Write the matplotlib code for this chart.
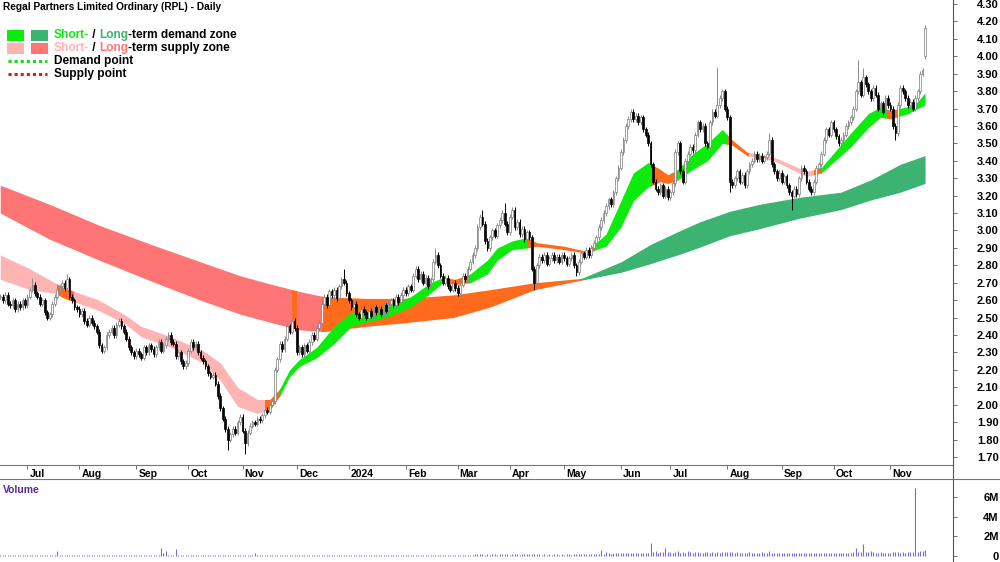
"""
Regal Partners Limited Ordinary (RPL) - daily candles with short/long-term
demand & supply zones and a volume panel underneath.
"""

import numpy as np
import pandas as pd
import matplotlib
matplotlib.use("Agg")
import matplotlib.pyplot as plt
from matplotlib.patches import Rectangle
from matplotlib.lines import Line2D

plt.rcParams["font.family"] = ["Liberation Sans", "DejaVu Sans"]

# ---------------------------------------------------------------------------
# Data
# ---------------------------------------------------------------------------
START = "2023-06-16"

closes = [
    # Jun 2023
    2.62, 2.60, 2.63, 2.58, 2.57, 2.60, 2.55, 2.58, 2.56, 2.60, 2.57,
    # Jul
    2.62, 2.66, 2.69, 2.64, 2.62, 2.58, 2.60, 2.53, 2.50, 2.52, 2.58, 2.62,
    2.66, 2.68, 2.70, 2.67, 2.72, 2.62, 2.60, 2.56, 2.55, 2.52,
    # Aug
    2.54, 2.48, 2.46, 2.50, 2.47, 2.45, 2.42, 2.34, 2.31, 2.33, 2.40, 2.42,
    2.44, 2.40, 2.46, 2.48, 2.45, 2.42, 2.38, 2.33, 2.30, 2.28, 2.31,
    # Sep
    2.29, 2.27, 2.33, 2.30, 2.34, 2.32, 2.29, 2.33, 2.36, 2.31, 2.34, 2.38,
    2.40, 2.36, 2.35, 2.28, 2.30, 2.25, 2.22, 2.24, 2.31,
    # Oct
    2.36, 2.33, 2.35, 2.30, 2.27, 2.25, 2.22, 2.18, 2.16, 2.17, 2.12, 2.05,
    1.98, 1.92, 1.86, 1.80, 1.83, 1.86, 1.84, 1.90, 1.93, 1.85,
    # Nov
    1.78, 1.84, 1.88, 1.90, 1.89, 1.92, 1.91, 1.94, 1.97, 1.96, 2.00, 2.02,
    2.20, 2.26, 2.35, 2.32, 2.38, 2.45, 2.42, 2.48, 2.44, 2.30,
    # Dec
    2.33, 2.29, 2.34, 2.31, 2.36, 2.40, 2.38, 2.44, 2.47, 2.58, 2.62, 2.57,
    2.65, 2.63, 2.66, 2.61, 2.68, 2.72, 2.70, 2.64, 2.60,
    # Jan 2024
    2.56, 2.58, 2.52, 2.50, 2.55, 2.53, 2.50, 2.54, 2.51, 2.56, 2.53, 2.55,
    2.52, 2.57, 2.54, 2.58, 2.60, 2.57, 2.62, 2.59, 2.63, 2.66, 2.64,
    # Feb
    2.68, 2.66, 2.74, 2.78, 2.72, 2.75, 2.70, 2.73, 2.68, 2.72, 2.82, 2.86,
    2.80, 2.74, 2.70, 2.73, 2.68, 2.66, 2.70, 2.67, 2.64,
    # Mar
    2.69, 2.74, 2.72, 2.78, 2.82, 2.86, 2.90, 3.02, 3.08, 3.04, 2.94, 2.90,
    2.96, 3.00, 2.97, 3.03, 3.06, 3.10, 3.04, 2.99, 3.08,
    # Apr
    3.12, 3.02, 3.05, 2.98, 3.01, 2.95, 2.99, 2.96, 2.78, 2.70, 2.80, 2.85,
    2.83, 2.86, 2.81, 2.84, 2.86, 2.83, 2.85, 2.82, 2.86, 2.84,
    # May
    2.81, 2.84, 2.86, 2.80, 2.76, 2.82, 2.87, 2.85, 2.89, 2.86, 2.90, 2.93,
    2.96, 3.02, 3.06, 3.10, 3.14, 3.18, 3.15, 3.22, 3.30, 3.36, 3.45,
    # Jun
    3.52, 3.60, 3.64, 3.68, 3.64, 3.66, 3.62, 3.65, 3.58, 3.55, 3.50, 3.38,
    3.28, 3.24, 3.22, 3.26, 3.20, 3.24, 3.19, 3.22,
    # Jul
    3.27, 3.45, 3.50, 3.34, 3.28, 3.40, 3.44, 3.48, 3.46, 3.55, 3.62, 3.58,
    3.60, 3.50, 3.48, 3.62, 3.68, 3.66, 3.72, 3.76, 3.80, 3.70, 3.65,
    # Aug
    3.28, 3.26, 3.30, 3.34, 3.28, 3.32, 3.26, 3.34, 3.38, 3.40, 3.44, 3.41,
    3.43, 3.40, 3.42, 3.44, 3.52, 3.38, 3.34, 3.30, 3.33, 3.28,
    # Sep
    3.31, 3.26, 3.22, 3.20, 3.24, 3.21, 3.30, 3.36, 3.34, 3.28, 3.24, 3.22,
    3.28, 3.36, 3.38, 3.44, 3.52, 3.58, 3.55, 3.62, 3.58,
    # Oct
    3.54, 3.50, 3.52, 3.55, 3.60, 3.62, 3.65, 3.70, 3.80, 3.85, 3.78, 3.88,
    3.84, 3.80, 3.76, 3.82, 3.78, 3.70, 3.73, 3.68, 3.76, 3.72, 3.70,
    # Nov
    3.60, 3.56, 3.72, 3.82, 3.80, 3.76, 3.72, 3.74, 3.70, 3.76, 3.80, 3.90,
    3.92, 4.16,
]

# opens follow the previous close except where the chart shows a gap
open_gaps = {374: 4.00}
# wick extremes that stick out noticeably
spike_highs = {13: 2.73, 27: 2.75, 139: 2.78, 176: 2.90, 195: 3.12,
               204: 3.16, 256: 3.70, 290: 3.94, 311: 3.56, 347: 3.98,
               349: 3.93, 374: 4.18}
spike_lows = {92: 1.74, 99: 1.72, 216: 2.66, 233: 2.74, 295: 3.22,
              320: 3.12, 362: 3.52}

# daily volume, millions of shares
volume_m = [
    0.10, 0.08, 0.12, 0.09, 0.11, 0.07, 0.10, 0.13, 0.09, 0.08, 0.12, 0.10, 0.09,
    0.11, 0.08, 0.10, 0.12, 0.09, 0.10, 0.08, 0.11, 0.09, 0.12, 0.55, 0.10,
    0.09, 0.11, 0.10, 0.08, 0.12, 0.09, 0.10, 0.08, 0.11, 0.09, 0.10, 0.12, 0.08,
    0.09, 0.11, 0.10, 0.09, 0.12, 0.08, 0.10, 0.11, 0.09, 0.10, 0.08, 0.12,
    0.10, 0.09, 0.11, 0.08, 0.10, 0.12, 0.09, 0.10, 0.11, 0.08, 0.10, 0.09, 0.12,
    0.10, 0.11, 0.80, 0.35, 0.55, 0.12, 0.10, 0.14, 0.70, 0.12, 0.10, 0.09,
    0.11, 0.10, 0.12, 0.09, 0.10, 0.08, 0.11, 0.10, 0.09, 0.12, 0.10, 0.11, 0.13,
    0.10, 0.12, 0.09, 0.11, 0.10, 0.12, 0.09, 0.10, 0.11, 0.13, 0.10, 0.12,
    0.10, 0.11, 0.09, 0.30, 0.12, 0.10, 0.11, 0.09, 0.10, 0.12, 0.11, 0.14, 0.12,
    0.10, 0.11, 0.09, 0.12, 0.10, 0.11, 0.09, 0.10, 0.12, 0.08, 0.10, 0.11,
    0.09, 0.10, 0.12, 0.08, 0.10, 0.11, 0.09, 0.10, 0.08, 0.12, 0.10, 0.09, 0.11,
    0.08, 0.10, 0.09, 0.12, 0.10, 0.09, 0.11, 0.10, 0.08, 0.12, 0.09, 0.10,
    0.11, 0.09, 0.10, 0.12, 0.08, 0.10, 0.11, 0.09, 0.10, 0.12, 0.10, 0.11, 0.09,
    0.10, 0.12, 0.10, 0.11, 0.09, 0.13, 0.10, 0.12, 0.11, 0.09, 0.14, 0.10,
    0.12, 0.15, 0.10, 0.13, 0.11, 0.14, 0.12, 0.10, 0.13, 0.11, 0.12, 0.14, 0.11,
    0.13, 0.12, 0.15, 0.13, 0.18, 0.22, 0.16, 0.20, 0.14, 0.17, 0.15, 0.16,
    0.18, 0.15, 0.17, 0.20, 0.16, 0.19, 0.15, 0.18, 0.16, 0.17, 0.15, 0.18, 0.16,
    0.19, 0.17, 0.22, 0.25, 0.18, 0.16, 0.15, 0.17, 0.14, 0.16, 0.15, 0.17,
    0.16, 0.14, 0.17, 0.15, 0.16, 0.18, 0.15, 0.17, 0.20, 0.16, 0.18, 0.17, 0.19,
    0.16, 0.20, 0.18, 0.22, 0.20, 0.60, 0.25, 0.45, 0.28, 0.24, 0.26, 0.30,
    0.28, 0.32, 0.30, 0.35, 0.28, 0.30, 0.26, 0.29, 0.27, 0.31, 0.28, 0.30, 0.33,
    1.30, 0.40, 0.50, 0.35, 0.38, 0.42, 0.80, 0.36, 0.45, 0.34, 0.40, 0.55,
    0.35, 0.38, 0.33, 0.50, 0.36, 0.34, 0.40, 0.45, 0.35, 0.32, 0.38, 0.40, 0.33,
    0.36, 0.34, 0.38, 0.35, 0.42, 0.37, 0.40, 0.45, 0.38, 0.34, 0.36, 0.33,
    0.35, 0.32, 0.34, 0.36, 0.33, 0.35, 0.31, 0.34, 0.36, 0.32, 0.35, 0.50, 0.33,
    0.31, 0.34, 0.30, 0.32, 0.35, 0.31, 0.33, 0.30, 0.32, 0.29, 0.31, 0.30,
    0.28, 0.30, 0.27, 0.29, 0.31, 0.28, 0.30, 0.32, 0.29, 0.31, 0.30, 0.33, 0.31,
    0.29, 0.32, 0.30, 0.34, 0.31, 0.33, 0.35, 0.36, 0.80, 0.40, 0.38, 1.20,
    0.45, 0.38, 0.50, 0.36, 0.34, 0.33, 0.36, 0.32, 0.35, 0.34, 0.33, 0.38, 0.36,
    0.40, 0.35, 0.37, 0.34, 0.38, 0.36, 0.42, 6.90, 0.45, 0.50, 0.48, 0.60,
]

# short-term zone edges (trading-day index, upper, lower)
st_idx = [0, 12, 22, 26, 30, 40, 51, 57, 69, 82, 89, 96, 104, 109, 113,
          117, 121, 128, 135, 142, 147, 156, 166, 174, 179, 184, 190, 197,
          201, 207, 213, 217, 228, 237, 245, 251, 256, 262, 267, 270, 274,
          280, 286, 292, 296, 302, 313, 326, 332, 344, 351, 356, 360, 367,
          371, 374]
st_upper = [2.86, 2.78, 2.70, 2.67, 2.65, 2.60, 2.51, 2.45, 2.39, 2.31, 2.24,
            2.10, 2.03, 2.03, 2.09, 2.20, 2.26, 2.33, 2.45, 2.53, 2.53, 2.56,
            2.62, 2.70, 2.73, 2.72, 2.75, 2.83, 2.90, 2.94, 2.96, 2.93, 2.91,
            2.88, 2.98, 3.17, 3.33, 3.39, 3.35, 3.32, 3.35, 3.44, 3.50, 3.58,
            3.52, 3.45, 3.42, 3.34, 3.36, 3.56, 3.67, 3.71, 3.69, 3.71, 3.74,
            3.79]
st_lower = [2.72, 2.66, 2.64, 2.61, 2.59, 2.54, 2.46, 2.39, 2.33, 2.24, 2.14,
            1.99, 1.95, 1.97, 2.05, 2.16, 2.22, 2.27, 2.35, 2.45, 2.47, 2.50,
            2.56, 2.64, 2.70, 2.69, 2.70, 2.75, 2.83, 2.89, 2.90, 2.91, 2.89,
            2.87, 2.91, 3.02, 3.17, 3.25, 3.28, 3.27, 3.29, 3.35, 3.40, 3.50,
            3.49, 3.43, 3.40, 3.31, 3.33, 3.48, 3.59, 3.65, 3.64, 3.67, 3.70,
            3.72]
st_states = [("supply", -1, 23), ("neutral", 23, 30), ("supply", 30, 107),
             ("neutral", 107, 113), ("demand", 113, 181), ("neutral", 181, 189),
             ("demand", 189, 213), ("neutral", 213, 240), ("demand", 240, 263),
             ("neutral", 263, 274), ("demand", 274, 294), ("neutral", 294, 303),
             ("supply", 303, 329), ("neutral", 329, 332), ("demand", 332, 359),
             ("neutral", 359, 363), ("demand", 363, 376)]

# long-term zone edges
lt_idx = [0, 20, 40, 61, 81, 97, 110, 121, 131, 148, 163, 183, 198, 216,
          235, 251, 263, 275, 283, 295, 307, 323, 340, 352, 364, 374]
lt_upper = [3.26, 3.15, 3.03, 2.92, 2.82, 2.74, 2.69, 2.65, 2.62, 2.61, 2.61,
            2.63, 2.66, 2.70, 2.725, 2.82, 2.92, 3.00, 3.05, 3.11, 3.15, 3.19,
            3.22, 3.29, 3.38, 3.43]
lt_lower = [3.10, 2.95, 2.83, 2.71, 2.60, 2.52, 2.47, 2.43, 2.42, 2.45, 2.47,
            2.50, 2.56, 2.66, 2.715, 2.76, 2.81, 2.865, 2.905, 2.97, 3.01,
            3.07, 3.12, 3.175, 3.22, 3.27]
lt_states = [("supply", -1, 118), ("neutral", 118, 120), ("supply", 120, 130),
             ("neutral", 130, 235), ("demand", 235, 376)]

# ---------------------------------------------------------------------------
# Styling
# ---------------------------------------------------------------------------
ST_COLORS = {"demand": "#0DEB0D", "supply": "#FFB4B4", "neutral": "#FF6A1C"}
LT_COLORS = {"demand": "#3CB371", "supply": "#FF7575", "neutral": "#FF6A1C"}
W, H = 1000, 562

n = len(closes)
dates = pd.bdate_range(START, periods=n)
x = np.arange(n)
c = np.array(closes)
o = np.concatenate([[c[0]], c[:-1]])
for k, v in open_gaps.items():
    o[k] = v
hi = np.maximum(o, c) + 0.015
lo = np.minimum(o, c) - 0.015
for k, v in spike_highs.items():
    hi[k] = v
for k, v in spike_lows.items():
    lo[k] = v

fig = plt.figure(figsize=(W / 100, H / 100), dpi=100)
ax = fig.add_axes([0, (H - 465) / H, 953 / W, 465 / H])
vax = fig.add_axes([0, 0, 953 / W, (H - 479) / H])

XLIM = (-0.1, 385.3)

# --- zones, coloured by state using clip rectangles ---
def draw_zone(idx, upper, lower, states, colors):
    for state, x0, x1 in states:
        poly = ax.fill_between(idx, lower, upper, color=colors[state],
                               lw=0, zorder=1)
        clip = Rectangle((x0, 0), x1 - x0, 10, transform=ax.transData)
        poly.set_clip_path(clip)

draw_zone(lt_idx, lt_upper, lt_lower, lt_states, LT_COLORS)
draw_zone(st_idx, st_upper, st_lower, st_states, ST_COLORS)

# --- candles ---
up = c >= o
ax.vlines(x[up], lo[up], hi[up], colors="#8a8a8a", lw=0.7, zorder=3)
ax.vlines(x[~up], lo[~up], hi[~up], colors="black", lw=0.7, zorder=3)
body = np.maximum(np.abs(c - o), 0.004)
ax.bar(x[up], body[up], bottom=np.minimum(o, c)[up], width=0.7,
       facecolor="white", edgecolor="#7a7a7a", lw=0.5, zorder=4)
ax.bar(x[~up], body[~up], bottom=np.minimum(o, c)[~up], width=0.7,
       facecolor="black", edgecolor="black", lw=0.5, zorder=4)

ax.set_xlim(*XLIM)
ax.set_ylim(1.654, 4.323)

# month ticks + labels in the date strip
month_start = [i for i in range(1, n) if dates[i].month != dates[i - 1].month]
ax.set_xticks(month_start)
ax.tick_params(axis="x", direction="out", length=3, width=0.6,
               color="#555555", labelbottom=False)
for i in month_start:
    d = dates[i]
    lab = str(d.year) if d.month == 1 else d.strftime("%b")
    ax.annotate(lab, xy=(i, 0), xycoords=ax.get_xaxis_transform(),
                xytext=(2, -9), textcoords="offset pixels",
                ha="left", va="center", fontsize=7.5, fontweight="bold")

# price axis on the right
ax.yaxis.tick_right()
yt = np.round(np.arange(1.7, 4.31, 0.1), 2)
ax.set_yticks(yt)
ax.set_yticklabels([f"{v:.2f}" for v in yt], fontsize=8, fontweight="bold")
ax.tick_params(axis="y", direction="out", length=3, width=0.6,
               color="#555555", pad=30)
for lbl in ax.get_yticklabels():
    lbl.set_ha("right")

for s in ["top", "left"]:
    ax.spines[s].set_visible(False)
ax.spines["right"].set_color("#555555")
ax.spines["bottom"].set_color("#777777")
ax.spines["right"].set_linewidth(0.8)
ax.spines["bottom"].set_linewidth(0.8)

# --- volume panel ---
vol = np.array(volume_m) * 1e6
vax.vlines(x[:len(vol)], 0, vol, colors="#6F6FD6", lw=0.8)
vax.set_xlim(*XLIM)
vax.set_ylim(-0.61e6, 7.83e6)
vax.set_xticks([])
vax.yaxis.tick_right()
vax.set_yticks([0, 2e6, 4e6, 6e6])
vax.set_yticklabels(["0", "2M", "4M", "6M"], fontsize=8, fontweight="bold")
vax.tick_params(axis="y", direction="out", length=3, width=0.6,
                color="#555555", pad=30)
for lbl in vax.get_yticklabels():
    lbl.set_ha("right")
for s in ["bottom", "left"]:
    vax.spines[s].set_visible(False)
vax.spines["right"].set_color("#555555")
vax.spines["top"].set_color("#777777")
vax.spines["right"].set_linewidth(0.8)
vax.spines["top"].set_linewidth(0.8)
vax.text(3 / 953, (562 - 490) / 83, "Volume", transform=vax.transAxes,
         color="#5A2A96", fontsize=7.5, fontweight="bold", va="center")

# right border through the date strip, full-width line above volume
fig.add_artist(Line2D([953 / W, 953 / W], [(H - 479) / H, (H - 465) / H],
                      color="#555555", lw=0.8))
fig.add_artist(Line2D([953 / W, 1], [(H - 479) / H, (H - 479) / H],
                      color="#777777", lw=0.8))

# --- title & legend ---
fig.text(3 / W, 1 - 7 / H, "Regal Partners Limited Ordinary (RPL) - Daily",
         fontsize=7.3, fontweight="bold", va="center", ha="left")

def swatch(x0, y0, w, h, color):
    fig.add_artist(Rectangle((x0 / W, 1 - (y0 + h) / H), w / W, h / H,
                             transform=fig.transFigure, color=color, lw=0))

swatch(7, 30, 17, 11, ST_COLORS["demand"])
swatch(31, 30, 17, 11, LT_COLORS["demand"])
swatch(7, 43, 17, 11, ST_COLORS["supply"])
swatch(31, 43, 17, 11, LT_COLORS["supply"])
fig.add_artist(Line2D([8 / W, 47 / W], [1 - 61 / H, 1 - 61 / H],
                      color="#11DD11", lw=2.2, ls=(0, (1, 1))))
fig.add_artist(Line2D([8 / W, 47 / W], [1 - 74 / H, 1 - 74 / H],
                      color="#EE1111", lw=2.2, ls=(0, (1, 1))))

renderer = fig.canvas.get_renderer()

def colored_line(x_px, y_px, parts):
    for s, col in parts:
        t = fig.text(x_px / W, 1 - y_px / H, s, color=col, fontsize=8.6,
                     fontweight="bold", va="center", ha="left")
        x_px += t.get_window_extent(renderer=renderer).width

colored_line(54, 35, [("Short-", "#0DEB0D"), (" / ", "black"),
                      ("Long", "#3CB371"), ("-term demand zone", "black")])
colored_line(54, 48, [("Short-", "#FFB4B4"), (" / ", "black"),
                      ("Long", "#FF7575"), ("-term supply zone", "black")])
colored_line(54, 61, [("Demand point", "black")])
colored_line(54, 74, [("Supply point", "black")])

fig.savefig("out.png", dpi=100)
